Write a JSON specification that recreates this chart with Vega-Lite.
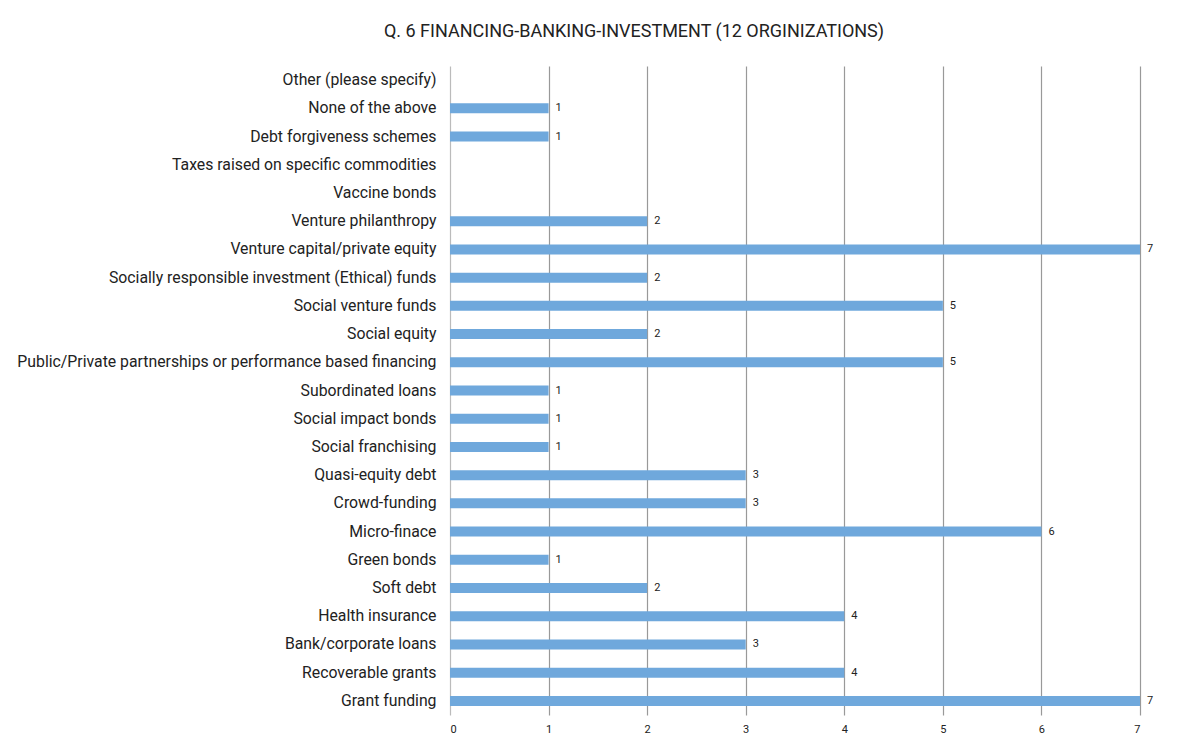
{
  "$schema": "https://vega.github.io/schema/vega-lite/v6.json",
  "autosize": {"type": "none"},
  "width": 690,
  "height": 649,
  "padding": {"left": 450, "top": 66, "right": 57, "bottom": 25},
  "background": "white",
  "title": {
    "text": "Q. 6 FINANCING-BANKING-INVESTMENT (12 ORGINIZATIONS)",
    "font": "Roboto",
    "fontSize": 18,
    "fontWeight": "normal",
    "color": "#222222",
    "anchor": "middle",
    "dx": -161,
    "offset": 25
  },
  "config": {
    "view": {"stroke": null},
    "font": "Roboto"
  },
  "data": {
    "values": [
      {"item": "Other (please specify)", "n": 0},
      {"item": "None of the above", "n": 1},
      {"item": "Debt forgiveness schemes", "n": 1},
      {"item": "Taxes raised on specific commodities", "n": 0},
      {"item": "Vaccine bonds", "n": 0},
      {"item": "Venture philanthropy", "n": 2},
      {"item": "Venture capital/private equity", "n": 7},
      {"item": "Socially responsible investment (Ethical) funds", "n": 2},
      {"item": "Social venture funds", "n": 5},
      {"item": "Social equity", "n": 2},
      {"item": "Public/Private partnerships or performance based financing", "n": 5},
      {"item": "Subordinated loans", "n": 1},
      {"item": "Social impact bonds", "n": 1},
      {"item": "Social franchising", "n": 1},
      {"item": "Quasi-equity debt", "n": 3},
      {"item": "Crowd-funding", "n": 3},
      {"item": "Micro-finace", "n": 6},
      {"item": "Green bonds", "n": 1},
      {"item": "Soft debt", "n": 2},
      {"item": "Health insurance", "n": 4},
      {"item": "Bank/corporate loans", "n": 3},
      {"item": "Recoverable grants", "n": 4},
      {"item": "Grant funding", "n": 7}
    ]
  },
  "encoding": {
    "y": {
      "field": "item",
      "type": "nominal",
      "sort": null,
      "scale": {"paddingInner": 0, "paddingOuter": 0},
      "axis": {
        "title": null,
        "domain": false,
        "ticks": false,
        "labelFont": "Roboto",
        "labelFontSize": 15.8,
        "labelColor": "#222222",
        "labelPadding": 14,
        "labelLimit": 500
      }
    },
    "x": {
      "field": "n",
      "type": "quantitative",
      "scale": {"domain": [0, 7], "nice": false},
      "axis": {
        "title": null,
        "values": [0, 1, 2, 3, 4, 5, 6, 7],
        "domain": false,
        "ticks": false,
        "labelFont": "Roboto",
        "labelFontSize": 11,
        "labelColor": "#222222",
        "labelPadding": 8,
        "grid": true,
        "gridColor": {"condition": {"test": "datum.value === 0", "value": "#bbbbbb"}, "value": "#999999"},
        "gridWidth": 1.2
      }
    }
  },
  "layer": [
    {
      "mark": {"type": "bar", "color": "#6fa8dc", "size": 10}
    },
    {
      "transform": [{"filter": "datum.n > 0"}],
      "mark": {"type": "text", "align": "left", "baseline": "middle", "dx": 7, "font": "Roboto", "fontSize": 11, "color": "#222222"},
      "encoding": {"text": {"field": "n", "type": "quantitative"}}
    }
  ]
}
